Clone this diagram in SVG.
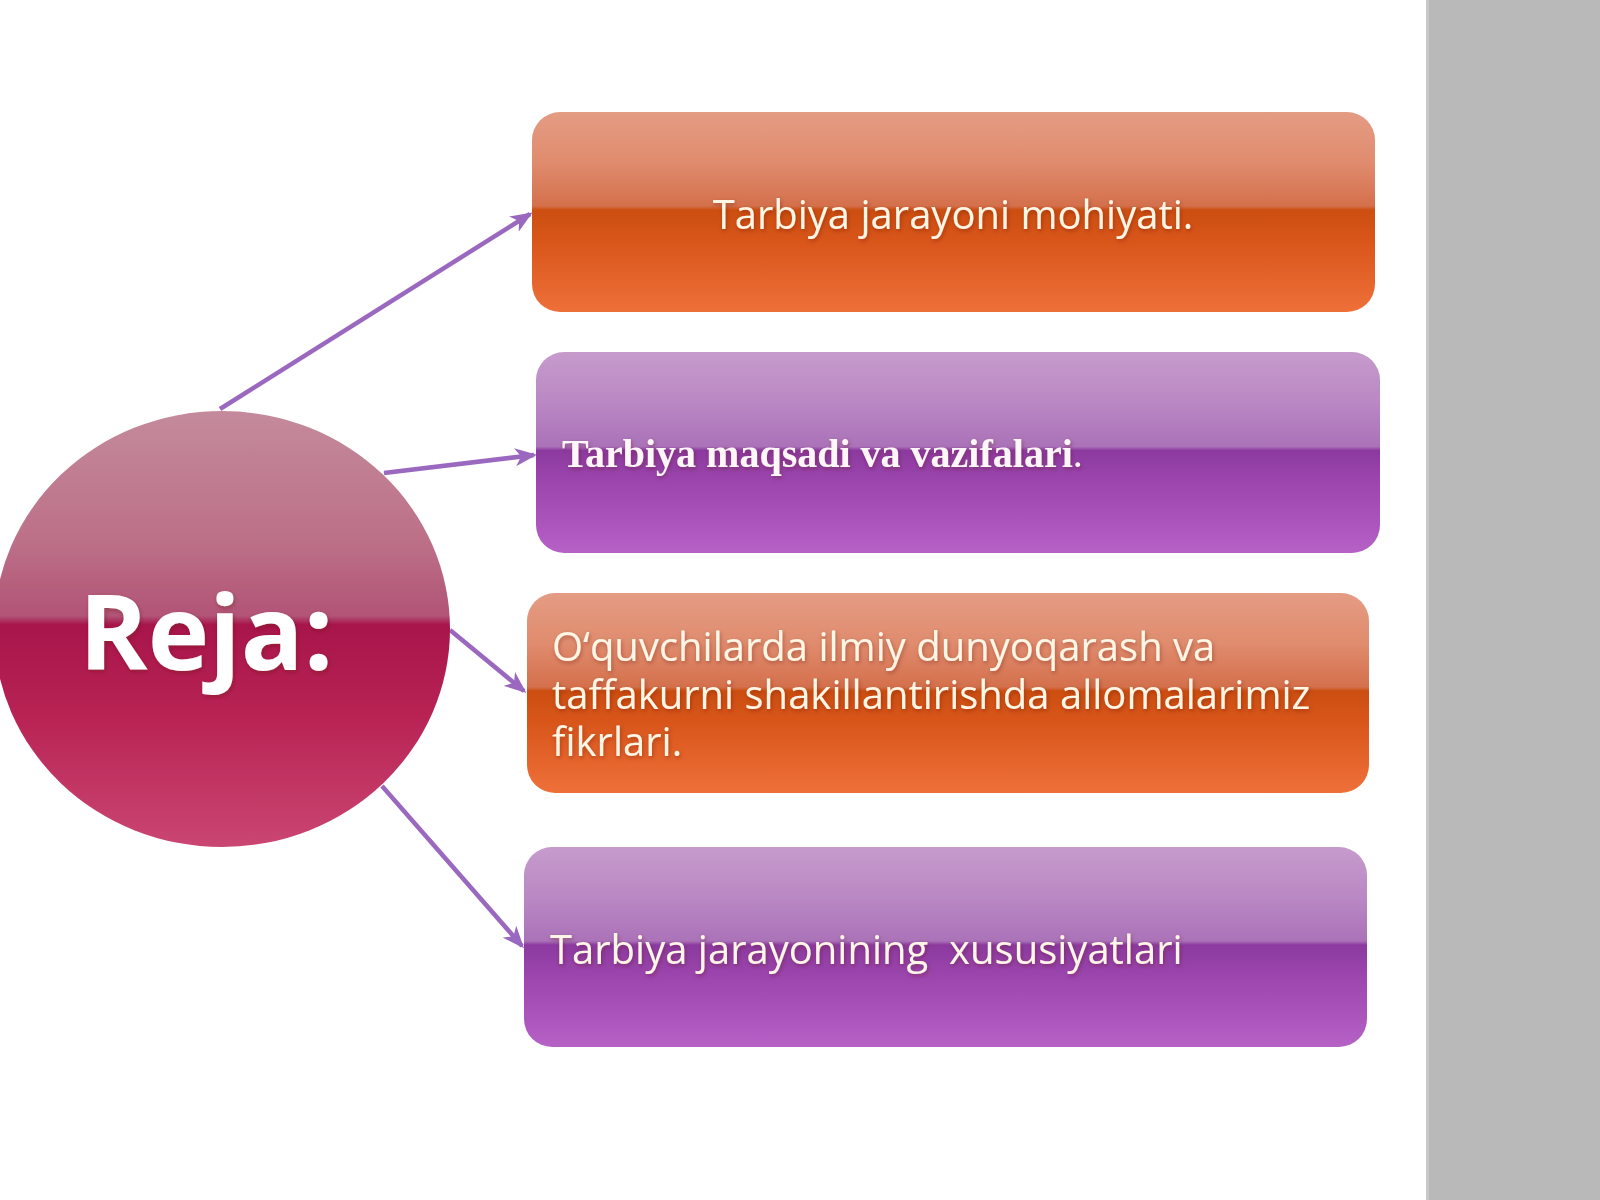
<svg xmlns="http://www.w3.org/2000/svg" width="1600" height="1200" viewBox="0 0 1600 1200">
  <defs>
    <linearGradient id="gOrange" x1="0" y1="0" x2="0" y2="1">
      <stop offset="0" stop-color="#E49C84"/>
      <stop offset="0.25" stop-color="#E08C6E"/>
      <stop offset="0.47" stop-color="#D4704C"/>
      <stop offset="0.49" stop-color="#CC4E10"/>
      <stop offset="0.65" stop-color="#D9561B"/>
      <stop offset="1" stop-color="#EE7039"/>
    </linearGradient>
    <linearGradient id="gPurple" x1="0" y1="0" x2="0" y2="1">
      <stop offset="0" stop-color="#C69BCC"/>
      <stop offset="0.25" stop-color="#BA88C4"/>
      <stop offset="0.47" stop-color="#AB72B8"/>
      <stop offset="0.49" stop-color="#8C3A9F"/>
      <stop offset="0.65" stop-color="#9C46AE"/>
      <stop offset="1" stop-color="#B661C6"/>
    </linearGradient>
    <linearGradient id="gCircle" x1="0" y1="0" x2="0" y2="1">
      <stop offset="0" stop-color="#C48A9C"/>
      <stop offset="0.3" stop-color="#BC7088"/>
      <stop offset="0.47" stop-color="#B25476"/>
      <stop offset="0.49" stop-color="#A8154A"/>
      <stop offset="0.7" stop-color="#B82354"/>
      <stop offset="1" stop-color="#CA4672"/>
    </linearGradient>
    <filter id="shadow" x="-5%" y="-20%" width="110%" height="140%">
      <feDropShadow dx="1" dy="2" stdDeviation="2" flood-color="#5a2000" flood-opacity="0.35"/>
    </filter>
    <marker id="arrow" viewBox="0 0 22 18" refX="19" refY="9" markerWidth="22" markerHeight="18" markerUnits="userSpaceOnUse" orient="auto">
      <path d="M0,0 L22,9 L0,18 L6,9 z" fill="#9B68C0"/>
    </marker>
    <style>
      .conn { stroke: #9B68C0; stroke-width: 4.5; fill: none; marker-end: url(#arrow); }
      .txt { font-family: "Open Sans", "Noto Sans", "DejaVu Sans", sans-serif; font-size: 40px; fill: #FFF6E6; }
      .serifb { font-family: "Liberation Serif", "Times New Roman", serif; font-size: 40px; font-weight: bold; fill: #FFF6F8; }
    </style>
  </defs>

  <rect x="0" y="0" width="1600" height="1200" fill="#FFFFFF"/>
  <rect id="sidebar" x="1426" y="0" width="174" height="1200" fill="#B9B9B9"/>
  <rect x="1426" y="0" width="3" height="1200" fill="#C8C8C8"/>

  <g id="connectors">
    <line class="conn" x1="220" y1="409" x2="530" y2="214"/>
    <line class="conn" x1="384" y1="473" x2="534" y2="455"/>
    <line class="conn" x1="450" y1="630" x2="524" y2="691"/>
    <line class="conn" x1="382" y1="786" x2="522" y2="946"/>
  </g>

  <g id="node-reja">
    <ellipse cx="222" cy="629" rx="228" ry="218" fill="url(#gCircle)"/>
    <text x="79" y="670" font-family="'Open Sans', 'Noto Sans', 'DejaVu Sans', sans-serif" font-size="104" font-weight="bold" fill="#FFFFFF" filter="url(#shadow)">Reja:</text>
  </g>

  <g id="node-1">
    <rect x="532" y="112" width="843" height="200" rx="28" fill="url(#gOrange)"/>
    <text class="txt" x="953" y="229" text-anchor="middle" filter="url(#shadow)">Tarbiya jarayoni mohiyati.</text>
  </g>

  <g id="node-2">
    <rect x="536" y="352" width="844" height="201" rx="28" fill="url(#gPurple)"/>
    <text class="serifb" x="562" y="467" filter="url(#shadow)">Tarbiya maqsadi va vazifalari<tspan font-weight="normal">.</tspan></text>
  </g>

  <g id="node-3">
    <rect x="527" y="593" width="842" height="200" rx="28" fill="url(#gOrange)"/>
    <text class="txt" filter="url(#shadow)">
      <tspan x="552" y="661">O‘quvchilarda ilmiy dunyoqarash va</tspan>
      <tspan x="552" y="709">taffakurni shakillantirishda allomalarimiz</tspan>
      <tspan x="552" y="756">fikrlari.</tspan>
    </text>
  </g>

  <g id="node-4">
    <rect x="524" y="847" width="843" height="200" rx="28" fill="url(#gPurple)"/>
    <text class="txt" x="550" y="964" fill="#FCEFFF" xml:space="preserve" filter="url(#shadow)">Tarbiya jarayonining  xususiyatlari</text>
  </g>
</svg>
